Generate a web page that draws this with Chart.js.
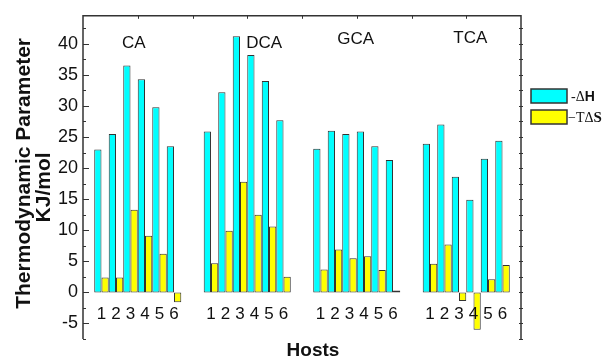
<!DOCTYPE html>
<html>
<head>
<meta charset="utf-8">
<script src="https://cdn.jsdelivr.net/npm/chart.js@4"></script>
<style>
html,body{margin:0;padding:0;background:#fff;}
#wrap{position:relative;width:609px;height:360px;}
</style>
</head>
<body>
<div id="wrap"><canvas id="c" width="609" height="360"></canvas></div>
<script>
// ---- data ----
const groups = ['CA', 'DCA', 'GCA', 'TCA'];
const hosts = ['1', '2', '3', '4', '5', '6'];
const seriesNames = ['-ΔH', '−TΔS'];
const yTickValues = [-5, 0, 5, 10, 15, 20, 25, 30, 35, 40];
const yTitleLines = ['Thermodynamic Parameter', 'KJ/mol'];
const xTitle = 'Hosts';

const negDeltaH_CA  = [23.0, 25.5, 36.5, 34.3, 29.8, 23.5];
const negDeltaH_DCA = [25.9, 32.2, 41.2, 38.2, 34.0, 27.7];
const negDeltaH_GCA = [23.1, 26.0, 25.5, 25.9, 23.5, 21.3];
const negDeltaH_TCA = [23.9, 27.0, 18.6, 14.9, 21.5, 24.4];

const negTDeltaS_CA  = [2.4, 2.4, 13.3, 9.1, 6.2, -1.6];
const negTDeltaS_DCA = [4.7, 9.9, 17.8, 12.5, 10.6, 2.5];
const negTDeltaS_GCA = [3.7, 6.9, 5.5, 5.8, 3.6, 0.3];
const negTDeltaS_TCA = [4.6, 7.7, -1.4, -6.0, 2.1, 4.4];

// ---- build ----
const dHByGroup = [negDeltaH_CA, negDeltaH_DCA, negDeltaH_GCA, negDeltaH_TCA];
const TdSByGroup = [negTDeltaS_CA, negTDeltaS_DCA, negTDeltaS_GCA, negTDeltaS_TCA];
const seriesColors = ['#00FFFF', '#FFFF00'];

const datasets = [];
hosts.forEach((h, i) => {
  datasets.push({
    label: seriesNames[0] + ' (host ' + h + ')',
    data: dHByGroup.map(a => a[i]),
    backgroundColor: seriesColors[0],
    borderColor: '#333',
    borderWidth: 1,
    borderSkipped: false
  });
  datasets.push({
    label: seriesNames[1] + ' (host ' + h + ')',
    data: TdSByGroup.map(a => a[i]),
    backgroundColor: seriesColors[1],
    borderColor: '#333',
    borderWidth: 1,
    borderSkipped: false
  });
});

const SANS = '"Liberation Sans", Arial, Helvetica, sans-serif';
const SERIF = '"Liberation Serif", "Times New Roman", serif';
Chart.defaults.font.family = SANS;
Chart.defaults.color = '#111';

const framePlugin = {
  id: 'frame',
  afterDraw(chart, args, opts) {
    const {ctx, chartArea: {left, right, top, bottom}, scales: {x, y}} = chart;
    ctx.save();
    // frame: left, top, right
    ctx.strokeStyle = '#333';
    ctx.lineWidth = 1.5;
    ctx.beginPath();
    ctx.moveTo(left, bottom);
    ctx.lineTo(left, top);
    ctx.lineTo(right, top);
    ctx.lineTo(right, bottom);
    ctx.stroke();
    // y ticks (inward on left, small on right)
    ctx.lineWidth = 1;
    for (let v = -7.5; v <= y.max - 1; v += 2.5) {
      const py = Math.round(y.getPixelForValue(v)) + 0.5;
      const major = Math.abs(v % 5) < 1e-9;
      ctx.beginPath();
      ctx.moveTo(left, py); ctx.lineTo(left + (major ? 6 : 3), py);
      ctx.moveTo(right - 2, py); ctx.lineTo(right + 2, py);
      ctx.stroke();
    }
    // top ticks at category centres and boundaries
    const n = chart.data.labels.length * 2;
    for (let k = 1; k < n; k++) {
      const px = Math.round(left + k * (right - left) / n) + 0.5;
      ctx.beginPath(); ctx.moveTo(px, top); ctx.lineTo(px, top + 3); ctx.stroke();
    }
    // group labels
    ctx.fillStyle = '#111';
    ctx.font = '17px ' + SANS;
    ctx.textAlign = 'center';
    ctx.textBaseline = 'middle';
    chart.data.labels.forEach((lab, i) => {
      const nd = opts.groupLabelNudge[i];
      ctx.fillText(lab, x.getPixelForValue(i) + nd[0], top + nd[1]);
    });
    // host numbers under each bar pair
    const zeroY = y.getPixelForValue(0);
    ctx.font = '17px ' + SANS;
    hosts.forEach((h, i) => {
      const m1 = chart.getDatasetMeta(2 * i).data;
      const m2 = chart.getDatasetMeta(2 * i + 1).data;
      m1.forEach((bar, g) => {
        const cx = (bar.x + m2[g].x) / 2;
        ctx.fillText(h, cx, zeroY + 21.5);
      });
    });
    // axis titles
    ctx.font = 'bold 19px ' + SANS;
    ctx.fillText(xTitle, (left + right) / 2 + 11, 351);
    ctx.font = 'bold 21px ' + SANS;
    const midY = (top + bottom) / 2;
    [[24.5, midY - 4], [44.5, midY + 10]].forEach((p, i) => {
      ctx.save();
      ctx.translate(p[0], p[1]);
      ctx.rotate(-Math.PI / 2);
      ctx.fillText(yTitleLines[i], 0, 0);
      ctx.restore();
    });
    // legend
    const lx = right + 10, bw = 36, bh = 14;
    const rows = [
      {y: 89, textX: lx + bw + 4, parts: [['-Δ', '14px ' + SERIF], ['H', 'bold 14px ' + SANS]]},
      {y: 110, textX: lx + bw + 1, parts: [['−TΔ', '14px ' + SERIF], ['S', 'bold 15px ' + SERIF]]}
    ];
    ctx.textAlign = 'left';
    ctx.textBaseline = 'middle';
    rows.forEach((r, i) => {
      ctx.fillStyle = seriesColors[i];
      ctx.fillRect(lx, r.y, bw, bh);
      ctx.strokeStyle = '#333';
      ctx.lineWidth = 1.5;
      ctx.strokeRect(lx, r.y, bw, bh);
      let tx = r.textX;
      ctx.fillStyle = '#111';
      r.parts.forEach(([t, f]) => {
        ctx.font = f;
        ctx.fillText(t, tx, r.y + bh / 2 + 1);
        tx += ctx.measureText(t).width;
      });
    });
    ctx.restore();
  }
};

new Chart(document.getElementById('c'), {
  type: 'bar',
  data: {labels: groups, datasets: datasets},
  options: {
    responsive: false,
    animation: false,
    devicePixelRatio: 1,
    layout: {padding: {top: 13, right: 88, left: 0, bottom: 0}},
    datasets: {bar: {categoryPercentage: 0.795, barPercentage: 1}},
    plugins: {
      legend: {display: false},
      tooltip: {enabled: false},
      frame: {groupLabelNudge: [[-4, 28], [17, 28], [-1, 24], [4, 23]]}
    },
    scales: {
      x: {
        grid: {display: false, drawTicks: false},
        border: {display: false},
        ticks: {display: false},
        afterFit(s) { s.height = 21; }
      },
      y: {
        min: -7.5,
        max: 44.5,
        afterBuildTicks(s) { s.ticks = yTickValues.map(v => ({value: v})); },
        grid: {display: false, drawTicks: false},
        border: {display: false},
        ticks: {font: {size: 18}, color: '#111', padding: 5},
        afterFit(s) { s.width = 83; }
      }
    }
  },
  plugins: [framePlugin]
});
</script>
</body>
</html>
